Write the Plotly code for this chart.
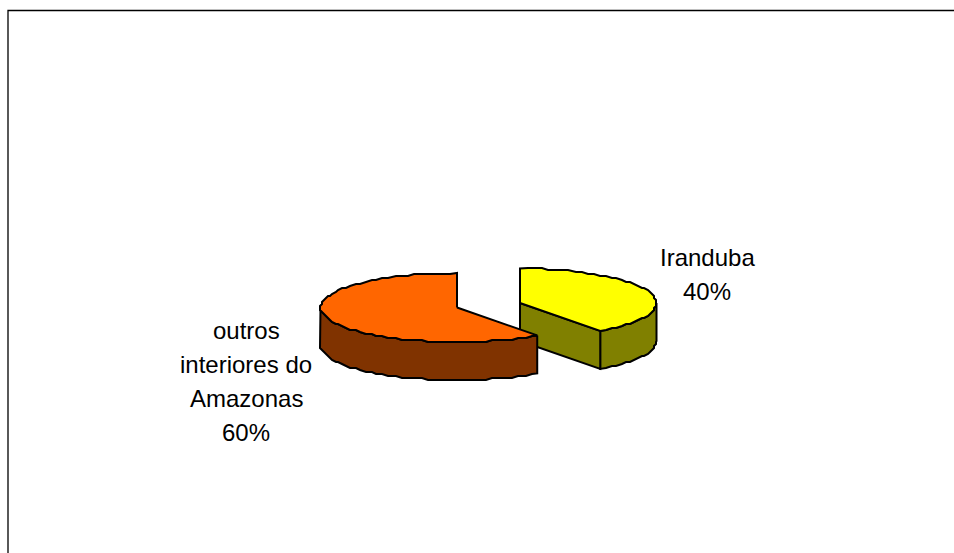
import numpy as np
import plotly.graph_objects as go

categories = [["Iranduba"], ["outros", "interiores do", "Amazonas"]]
values = [40, 60]
top_colors = ["#FFFF00", "#FF6600"]
side_colors = ["#808000", "#803300"]
apex_x = [520, 457]
apex_y = [303, 307.5]
label_x = [707, 246]
label_y = [257, 330]
line_step = 34

RX, RY, DEPTH, GRID = 136.5, 34.5, 38, 2


def rim(a0, a1):
    t = np.radians(np.arange(a0, a1 + 0.001, 3.0))
    if abs(np.degrees(t[-1]) - a1) > 0.01:
        t = np.append(t, np.radians(a1))
    return t


def exact(cx, cy, a):
    return cx + RX * np.sin(np.radians(a)), cy - RY * np.cos(np.radians(a))


def pt(cx, cy, a0, a1):
    t = rim(a0, a1)
    x = np.round((cx + RX * np.sin(t)) / GRID) * GRID
    y = np.round((cy - RY * np.cos(t)) / GRID) * GRID
    x[0], y[0] = exact(cx, cy, a0)
    x[-1], y[-1] = exact(cx, cy, a1)
    return x, y


fig = go.Figure()


def poly(x, y, color):
    fig.add_trace(go.Scatter(x=x, y=y, mode="lines", fill="toself", fillcolor=color,
                             line=dict(color="#000000", width=2), hoverinfo="skip",
                             showlegend=False))


cum = 0
angles = {}
for i, v in enumerate(values):
    angles[i] = (cum * 3.6, (cum + v) * 3.6)
    cum += v

for i in [0, 1]:
    a0, a1 = angles[i]
    cx, cy = apex_x[i], apex_y[i]
    # outer wall: only the part of the rim that faces the viewer
    w0, w1 = max(a0, 90), min(a1, 270)
    xs, ys = pt(cx, cy, w0, w1)
    poly(np.r_[xs, xs[::-1], xs[0]], np.r_[ys, ys[::-1] + DEPTH, ys[0]], side_colors[i])
    # cut wall that faces the viewer
    if i == 0:
        ex, ey = exact(cx, cy, a1)
        poly([cx, ex, ex, cx, cx], [cy, ey, ey + DEPTH, cy + DEPTH, cy], side_colors[i])
    # top face
    xs, ys = pt(cx, cy, a0, a1)
    poly(np.r_[cx, xs, cx], np.r_[cy, ys, cy], top_colors[i])

for i, lines in enumerate(categories):
    for k, txt in enumerate(lines + [f"{values[i]}%"]):
        fig.add_annotation(x=label_x[i], y=label_y[i] + k * line_step, text=txt, showarrow=False,
                           align="center", xanchor="center", yanchor="middle",
                           font=dict(family="Liberation Sans", size=24, color="#000000"))

fig.update_layout(
    width=954, height=553, margin=dict(l=0, r=0, t=0, b=0),
    paper_bgcolor="#FFFFFF", plot_bgcolor="#FFFFFF", showlegend=False,
    xaxis=dict(range=[0, 954], visible=False, fixedrange=True),
    yaxis=dict(range=[553, 0], visible=False, fixedrange=True),
    shapes=[dict(type="path", path="M 8 553 L 8 10.5 L 954 10.5",
                 line=dict(color="#000000", width=1.3))],
)
fig.write_html("out.html", config={"displayModeBar": False},
               post_script="document.body.style.margin='0';document.documentElement.style.overflow='hidden';")
